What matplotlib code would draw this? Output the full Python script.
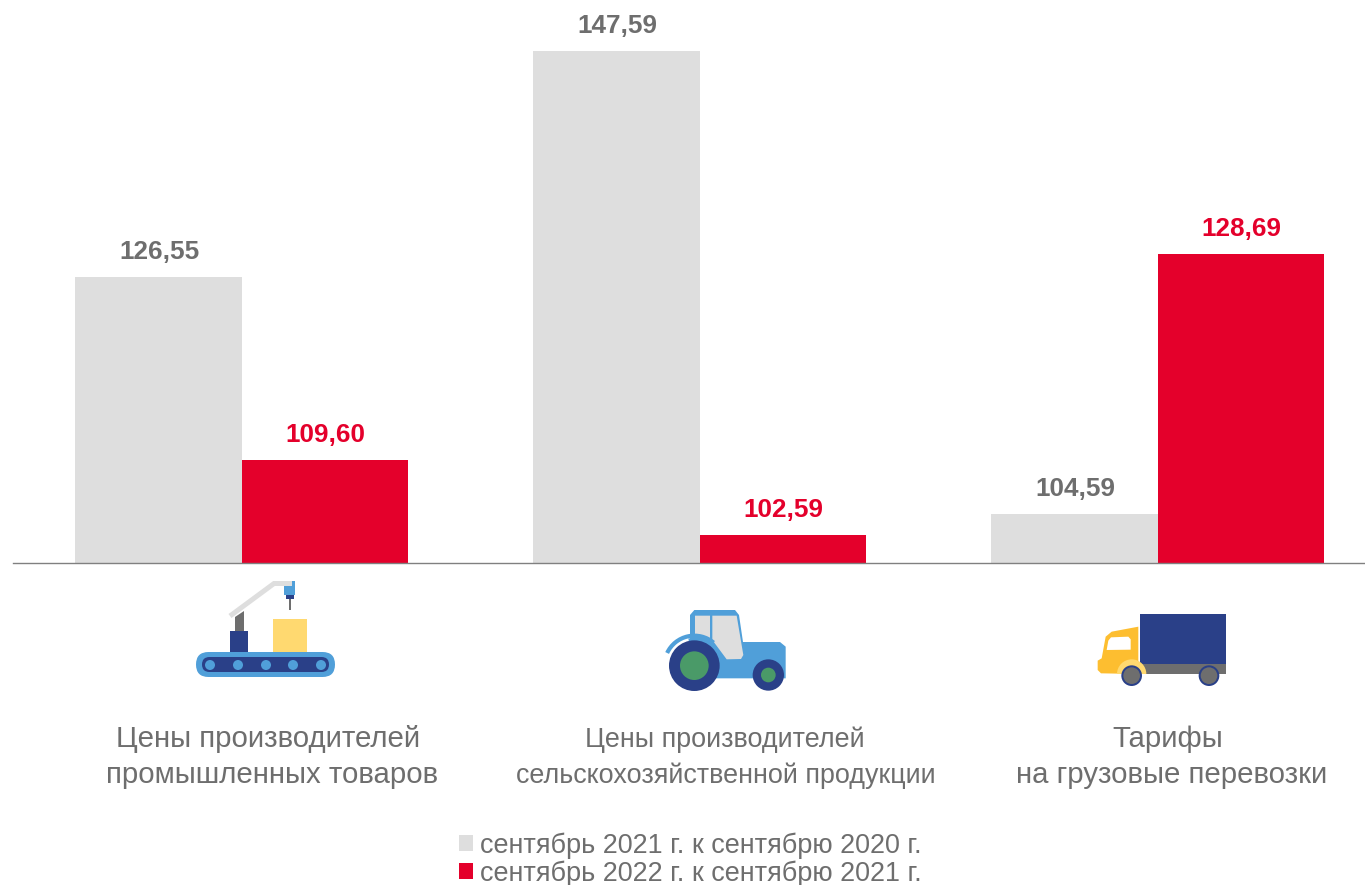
import matplotlib
matplotlib.use("Agg")
import matplotlib.pyplot as plt
from matplotlib.patches import Circle, FancyBboxPatch, Polygon, Rectangle, Arc, Wedge

plt.rcParams['font.family'] = ['Liberation Sans', 'DejaVu Sans']

# значения
series_2021 = [126.55, 147.59, 104.59]
series_2022 = [109.60, 102.59, 128.69]
value_labels_2021 = ['126,55', '147,59', '104,59']
value_labels_2022 = ['109,60', '102,59', '128,69']
legend_labels = ['сентябрь 2021 г. к сентябрю 2020 г.', 'сентябрь 2022 г. к сентябрю 2021 г.']
category_lines = [
    ['Цены производителей', 'промышленных товаров'],
    ['Цены производителей', 'сельскохозяйственной продукции'],
    ['Тарифы', 'на грузовые перевозки'],
]

GREY = '#dedede'
RED = '#e4002b'
TEXT = '#6e6e6e'
BLUE = '#509fd9'
NAVY = '#2a4088'
GREEN = '#4a9a68'
W, H = 1365, 885

fig = plt.figure(figsize=(W / 100, H / 100), dpi=100)

# основная область: базовая линия на y=563, значение 100 на оси
ax = fig.add_axes([12.6 / W, 1 - 563 / H, (W - 12.6) / W, 563 / H])
ax.set_xlim(-0.5, -0.5 + (W - 12.6) / 458)
ax.set_ylim(100, 100 + 563 / 10.76)
width = 166.5 / 458
x = range(3)
bars1 = ax.bar([i - width / 2 for i in x], series_2021, width, bottom=0, color=GREY, label=legend_labels[0])
bars2 = ax.bar([i + width / 2 for i in x], series_2022, width, bottom=0, color=RED, label=legend_labels[1])

for bars, labels, col in [(bars1, value_labels_2021, TEXT), (bars2, value_labels_2022, RED)]:
    for b, lab in zip(bars, labels):
        ax.annotate(lab, (b.get_x() + b.get_width() / 2, b.get_height()), xytext=(0.5, 13),
                    textcoords='offset points', ha='center', va='baseline',
                    fontsize=18.8, fontweight='bold', color=col)

for s in ['top', 'left', 'right']:
    ax.spines[s].set_visible(False)
ax.spines['bottom'].set_color('#808080')
ax.spines['bottom'].set_linewidth(1)
ax.set_xticks([])
ax.set_yticks([])

# иконки и подписи рисуем в пикселях картинки
ov = fig.add_axes([0, 0, 1, 1], zorder=3)
ov.set_xlim(0, W)
ov.set_ylim(H, 0)
ov.axis('off')
ov.patch.set_alpha(0)


def rect(x0, y0, x1, y1, color):
    ov.add_patch(Rectangle((x0, y0), x1 - x0, y1 - y0, fc=color, ec='none'))


def rounded(x0, y0, x1, y1, r, color):
    ov.add_patch(FancyBboxPatch((x0 + r, y0 + r), x1 - x0 - 2 * r, y1 - y0 - 2 * r,
                                boxstyle='round,pad=%f,rounding_size=%f' % (r, r), fc=color, ec='none'))


def circle(cx, cy, r, color):
    ov.add_patch(Circle((cx, cy), r, fc=color, ec='none'))


# конвейер
rounded(196, 652, 335, 677, 12.5, BLUE)
rounded(202, 657, 329, 672, 7.5, NAVY)
for cx in [210, 238, 266, 293, 321]:
    circle(cx, 665, 5, BLUE)
rect(230, 631, 248, 652, NAVY)
ov.add_patch(Polygon([(235, 617), (244, 611), (244, 631), (235, 631)], fc='#6e6e6e', ec='none'))
ov.plot([230, 274, 292], [616, 583.5, 583.5], color=GREY, lw=3.6, solid_joinstyle='miter', solid_capstyle='butt')
rect(284, 581, 295, 595, BLUE)
rect(286, 595, 294, 599, NAVY)
rect(289, 599, 291, 610, '#6e6e6e')
rect(273, 619, 307, 652, '#ffd970')


# трактор: координаты от угла 655,595 в масштабе 1/3
def tr(pts):
    return [(655 + a / 3, 595 + b / 3) for a, b in pts]


ov.add_patch(Polygon(tr([(105, 130), (105, 60), (118, 45), (240, 45), (252, 60), (264, 141), (375, 141), (392, 155),
                         (392, 250), (120, 250), (100, 130)]), fc=BLUE, ec='none'))
ov.add_patch(Polygon(tr([(120, 62), (165, 62), (165, 133), (120, 124)]), fc=GREY, ec='none'))
ov.add_patch(Polygon(tr([(172, 62), (245, 62), (265, 180), (258, 192), (215, 193), (172, 135)]), fc=GREY, ec='none'))
ov.add_patch(Arc((655 + 118 / 3, 595 + 212 / 3), 2 * 90 / 3, 2 * 90 / 3, theta1=205, theta2=310, color=BLUE, lw=3))
circle(655 + 118 / 3, 595 + 212 / 3, 76 / 3, NAVY)
circle(655 + 118 / 3, 595 + 212 / 3, 43 / 3, GREEN)
circle(655 + 340 / 3, 595 + 240 / 3, 47 / 3, NAVY)
circle(655 + 340 / 3, 595 + 240 / 3, 22 / 3, GREEN)


# грузовик: от угла 1085,600
def tk(pts):
    return [(1085 + a / 3, 600 + b / 3) for a, b in pts]


ov.add_patch(Polygon(tk([(165, 43), (422, 43), (422, 193), (165, 193)]), fc=NAVY, ec='none'))
ov.add_patch(Polygon(tk([(165, 193), (422, 193), (422, 222), (165, 222)]), fc='#6e6e6e', ec='none'))
ov.add_patch(Polygon(tk([(160, 80), (80, 95), (62, 110), (50, 175), (38, 182), (38, 210), (48, 220), (160, 222)]),
                     fc='#fdbe30', ec='none'))
ov.add_patch(Polygon(tk([(70, 122), (78, 112), (130, 110), (137, 118), (137, 149), (65, 150)]), fc='white', ec='none'))
# ось y перевёрнута, поэтому верхняя половина круга это углы 180-360
ov.add_patch(Wedge((1085 + 140 / 3, 600 + 222 / 3), 44 / 3, 180, 360, fc='#ffd970', ec='none'))
for wx in [140, 372]:
    circle(1085 + wx / 3, 600 + 227 / 3, 31 / 3, NAVY)
    circle(1085 + wx / 3, 600 + 227 / 3, 25 / 3, '#6e6e6e')

# подписи категорий
line_x = [[268, 272], [725, 726], [1168, 1172]]
line_size = [21.2, 19.4, 21.2]
for lines, xs, fs in zip(category_lines, line_x, line_size):
    for txt, tx, ty in zip(lines, xs, [747, 783]):
        ov.text(tx, ty, txt, ha='center', va='baseline', fontsize=fs, color=TEXT)

leg = ax.legend(handles=[bars1, bars2], labels=legend_labels, loc='center', frameon=False, fontsize=19.45,
                bbox_to_anchor=(690 / W, 1 - 859.5 / H), bbox_transform=fig.transFigure,
                handlelength=0.52, handleheight=0.52, handletextpad=0.25, labelspacing=0.06,
                labelcolor=TEXT, borderpad=0)

fig.savefig('out.png', dpi=100)
